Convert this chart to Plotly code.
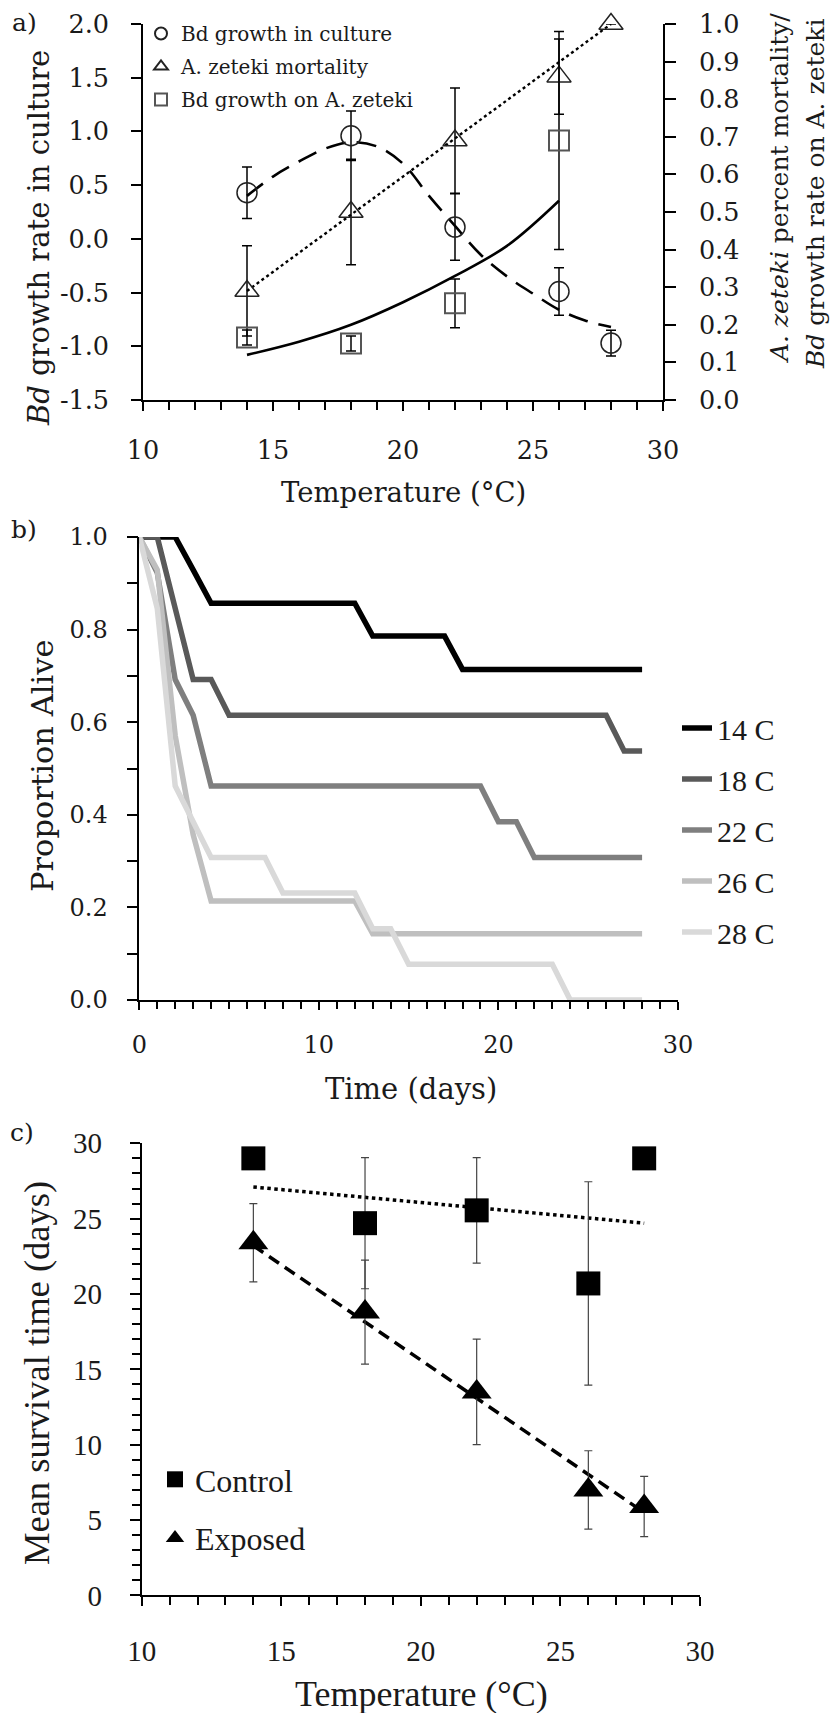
import plotly.graph_objects as go

W, H = 838, 1713
OFF = 8  # page body margin of the html page
def PX(x): return (x - OFF) / W
def PY(y): return 1 - (y - OFF) / H

FA = "DejaVu Serif"
FC = "Liberation Serif"
INK = "#1a1a1a"

# ---------------- Panel a data ----------------
temps_a = [14, 18, 22, 26, 28]
culture_growth = [0.43, 0.96, 0.11, -0.49, -0.97]
culture_err = [0.24, 0.23, 0.31, 0.22, 0.12]
mortality = [0.29, 0.50, 0.69, 0.86, 1.00]
mortality_err = [0.12, 0.14, 0.14, 0.10, 0.0]
temps_host = [14, 18, 22, 26]
host_growth = [0.166, 0.15, 0.257, 0.69]
host_err = [0.02, 0.02, 0.065, 0.29]

culture_fit_t = [14, 15, 16, 17, 18, 19, 20, 21, 22, 23, 24, 25, 26, 27, 28]
culture_fit = [0.40, 0.58, 0.72, 0.84, 0.90, 0.86, 0.70, 0.40, 0.12, -0.15, -0.35, -0.51, -0.66, -0.76, -0.82]
mortality_fit_t = [14, 28]
mortality_fit = [0.29, 1.00]
host_fit_t = [14, 16, 18, 20, 22, 24, 26]
host_fit = [0.12, 0.155, 0.20, 0.26, 0.33, 0.41, 0.53]

a_left_ticks = [-1.5, -1.0, -0.5, 0.0, 0.5, 1.0, 1.5, 2.0]
a_left_labels = ["-1.5", "-1.0", "-0.5", "0.0", "0.5", "1.0", "1.5", "2.0"]

# ---------------- Panel b data ----------------
days = [0, 1, 2, 3, 4, 5, 6, 7, 8, 9, 10, 11, 12, 13, 14, 15, 16, 17, 18, 19, 20,
        21, 22, 23, 24, 25, 26, 27, 28]
surv_14 = [1, 1, 1, 0.929, 0.857, 0.857, 0.857, 0.857, 0.857, 0.857, 0.857, 0.857, 0.857,
           0.786, 0.786, 0.786, 0.786, 0.786, 0.714, 0.714, 0.714, 0.714, 0.714, 0.714,
           0.714, 0.714, 0.714, 0.714, 0.714]
surv_18 = [1, 1, 0.846, 0.692, 0.692, 0.615, 0.615, 0.615, 0.615, 0.615, 0.615, 0.615,
           0.615, 0.615, 0.615, 0.615, 0.615, 0.615, 0.615, 0.615, 0.615, 0.615, 0.615,
           0.615, 0.615, 0.615, 0.615, 0.538, 0.538]
surv_22 = [1, 0.923, 0.692, 0.615, 0.462, 0.462, 0.462, 0.462, 0.462, 0.462, 0.462, 0.462,
           0.462, 0.462, 0.462, 0.462, 0.462, 0.462, 0.462, 0.462, 0.385, 0.385, 0.308,
           0.308, 0.308, 0.308, 0.308, 0.308, 0.308]
surv_26 = [1, 0.929, 0.571, 0.357, 0.214, 0.214, 0.214, 0.214, 0.214, 0.214, 0.214, 0.214,
           0.214, 0.143, 0.143, 0.143, 0.143, 0.143, 0.143, 0.143, 0.143, 0.143, 0.143,
           0.143, 0.143, 0.143, 0.143, 0.143, 0.143]
surv_28 = [1, 0.846, 0.462, 0.385, 0.308, 0.308, 0.308, 0.308, 0.231, 0.231, 0.231, 0.231,
           0.231, 0.154, 0.154, 0.077, 0.077, 0.077, 0.077, 0.077, 0.077, 0.077, 0.077,
           0.077, 0, 0, 0, 0, 0]
surv_names = ["14 C", "18 C", "22 C", "26 C", "28 C"]
surv_colors = ["#000000", "#595959", "#7f7f7f", "#bfbfbf", "#d9d9d9"]

# ---------------- Panel c data ----------------
temps_c = [14, 18, 22, 26, 28]
control_mean = [29.0, 24.7, 25.55, 20.7, 29.0]
control_err = [0, 4.35, 3.5, 6.75, 0]
exposed_mean = [23.4, 18.8, 13.5, 7.0, 5.9]
exposed_err = [2.6, 3.45, 3.5, 2.6, 2.0]
control_fit_t = [14, 28]
control_fit = [27.1, 24.7]
exposed_fit_t = [14, 28]
exposed_fit = [23.2, 5.5]

fig = go.Figure()

# ---- panel a traces ----
fig.add_trace(go.Scatter(x=culture_fit_t, y=culture_fit, mode="lines", xaxis="x", yaxis="y",
                         line=dict(color="black", width=2.6, dash="20px,11px", shape="spline"),
                         showlegend=False, hoverinfo="skip"))
fig.add_trace(go.Scatter(x=mortality_fit_t, y=mortality_fit, mode="lines", xaxis="x", yaxis="y2",
                         line=dict(color="black", width=2.4, dash="dot"),
                         showlegend=False, hoverinfo="skip"))
fig.add_trace(go.Scatter(x=host_fit_t, y=host_fit, mode="lines", xaxis="x", yaxis="y2",
                         line=dict(color="black", width=2.6, shape="spline"),
                         showlegend=False, hoverinfo="skip"))
fig.add_trace(go.Scatter(x=temps_a, y=culture_growth, mode="markers", xaxis="x", yaxis="y",
                         name="Bd growth in culture", legend="legend", legendgroup="a1",
                         cliponaxis=False,
                         marker=dict(symbol="circle-open", size=20, color="#222",
                                     line=dict(width=1.5, color="#222")),
                         error_y=dict(type="data", array=culture_err, color="black",
                                      thickness=1.5, width=5)))
fig.add_trace(go.Scatter(x=temps_a, y=mortality, mode="markers", xaxis="x", yaxis="y2",
                         name="A. zeteki mortality", legend="legend", legendgroup="a2",
                         cliponaxis=False,
                         marker=dict(symbol="triangle-up-open", size=21, color="#222",
                                     line=dict(width=1.5, color="#222")),
                         error_y=dict(type="data", array=mortality_err, color="black",
                                      thickness=1.5, width=5)))
fig.add_trace(go.Scatter(x=temps_host, y=host_growth, mode="markers", xaxis="x", yaxis="y2",
                         name="Bd growth on A. zeteki", legend="legend", legendgroup="a3",
                         cliponaxis=False,
                         marker=dict(symbol="square-open", size=20, color="#555",
                                     line=dict(width=2, color="#555")),
                         error_y=dict(type="data", array=host_err, color="black",
                                      thickness=1.5, width=5)))

# ---- panel b traces ----
for name, vals, col in zip(surv_names, [surv_14, surv_18, surv_22, surv_26, surv_28], surv_colors):
    fig.add_trace(go.Scatter(x=days, y=vals, mode="lines", xaxis="x3", yaxis="y3",
                             name=name, legend="legend2", legendgroup=name,
                             line=dict(color=col, width=5.5), hoverinfo="skip"))

# ---- panel c traces ----
fig.add_trace(go.Scatter(x=control_fit_t, y=control_fit, mode="lines", xaxis="x4", yaxis="y4",
                         line=dict(color="black", width=3.5, dash="dot"),
                         showlegend=False, hoverinfo="skip"))
fig.add_trace(go.Scatter(x=exposed_fit_t, y=exposed_fit, mode="lines", xaxis="x4", yaxis="y4",
                         line=dict(color="black", width=3.5, dash="12px,7px"),
                         showlegend=False, hoverinfo="skip"))
fig.add_trace(go.Scatter(x=temps_c, y=control_mean, mode="markers", xaxis="x4", yaxis="y4",
                         name="Control", legend="legend3", legendgroup="c1", cliponaxis=False,
                         marker=dict(symbol="square", size=24, color="black"),
                         error_y=dict(type="data", array=control_err, color="#444",
                                      thickness=1.2, width=4)))
fig.add_trace(go.Scatter(x=temps_c, y=exposed_mean, mode="markers", xaxis="x4", yaxis="y4",
                         name="Exposed", legend="legend3", legendgroup="c2", cliponaxis=False,
                         marker=dict(symbol="triangle-up", size=26, color="black"),
                         error_y=dict(type="data", array=exposed_err, color="#444",
                                      thickness=1.2, width=4)))

ax_common = dict(showline=True, linecolor="black", linewidth=1.6, showgrid=False,
                 zeroline=False, ticks="outside", tickcolor="black", tickwidth=1.5,
                 automargin=False)

fig.update_layout(
    template="none",
    width=W, height=H, margin=dict(l=0, r=0, t=0, b=0, autoexpand=False),
    paper_bgcolor="white", plot_bgcolor="white", hovermode=False,
    # panel a
    xaxis=dict(ax_common, domain=[PX(143), PX(663)], range=[10, 30], anchor="y",
               tick0=10, dtick=5, ticklen=9, ticklabelstandoff=18,
               minor=dict(dtick=1, ticks="outside", ticklen=8, tickcolor="black", tickwidth=1.5),
               tickfont=dict(family=FA, size=25.5, color=INK)),
    yaxis=dict(ax_common, domain=[PY(400), PY(24)], range=[-1.5, 2.0], anchor="x",
               tickmode="array", tickvals=a_left_ticks, ticktext=a_left_labels, ticklen=10,
               ticklabelstandoff=17,
               tickfont=dict(family=FA, size=25.5, color=INK)),
    yaxis2=dict(ax_common, overlaying="y", side="right", anchor="x", range=[0, 1.0],
                tick0=0, dtick=0.1, tickformat=".1f", ticklen=11, ticklabelstandoff=18,
                tickfont=dict(family=FA, size=25.5, color=INK)),
    # panel b
    xaxis3=dict(ax_common, domain=[PX(139.3), PX(678)], range=[0, 30], anchor="y3",
                tick0=0, dtick=10, ticklen=8, ticklabelstandoff=14,
                minor=dict(dtick=1, ticks="outside", ticklen=7, tickcolor="black", tickwidth=1.5),
                tickfont=dict(family=FA, size=24, color=INK)),
    yaxis3=dict(ax_common, domain=[PY(1000), PY(537)], range=[0, 1.0], anchor="x3",
                tick0=0, dtick=0.2, tickformat=".1f", ticklen=11, ticklabelstandoff=14,
                minor=dict(dtick=0.1, ticks="outside", ticklen=11, tickcolor="black", tickwidth=1.5),
                tickfont=dict(family=FA, size=24, color=INK)),
    # panel c
    xaxis4=dict(ax_common, domain=[PX(141.7), PX(700)], range=[10, 30], anchor="y4",
                tick0=10, dtick=5, ticklen=9, ticklabelstandoff=20,
                minor=dict(dtick=1, ticks="outside", ticklen=8, tickcolor="black", tickwidth=1.5),
                tickfont=dict(family=FC, size=29, color=INK)),
    yaxis4=dict(ax_common, domain=[PY(1595.4), PY(1143.3)], range=[0, 30], anchor="x4",
                tick0=0, dtick=5, ticklen=10, ticklabelstandoff=22,
                minor=dict(dtick=1, ticks="outside", ticklen=8, tickcolor="black", tickwidth=1.5),
                tickfont=dict(family=FC, size=29, color=INK)),
    legend=dict(x=PX(141), y=PY(14), xanchor="left", yanchor="top", bgcolor="rgba(0,0,0,0)",
                font=dict(family=FA, size=20, color=INK), itemsizing="constant",
                tracegroupgap=4, itemwidth=30),
    legend2=dict(x=PX(677), y=PY(702), xanchor="left", yanchor="top", bgcolor="rgba(0,0,0,0)",
                 font=dict(family=FC, size=30, color=INK), tracegroupgap=9, itemwidth=30),
    legend3=dict(x=PX(155), y=PY(1452), xanchor="left", yanchor="top", bgcolor="rgba(0,0,0,0)",
                 font=dict(family=FC, size=32, color=INK), tracegroupgap=14, itemwidth=30,
                 itemsizing="trace"),
)

ann = [
    dict(text="a)", x=PX(24), y=PY(22), font=dict(family=FA, size=25, color=INK)),
    dict(text="<i>Bd</i> growth rate in culture", x=PX(39), y=PY(238), textangle=-90,
         font=dict(family=FA, size=29, color=INK)),
    dict(text="<i>A. zeteki</i> percent mortality/", x=PX(780), y=PY(188), textangle=-90,
         font=dict(family=FA, size=25, color=INK)),
    dict(text="<i>Bd</i> growth rate on A. zeteki", x=PX(815), y=PY(194), textangle=-90,
         font=dict(family=FA, size=25, color=INK)),
    dict(text="Temperature (°C)", x=PX(403), y=PY(492), font=dict(family=FA, size=27.5, color=INK)),
    dict(text="b)", x=PX(24), y=PY(530), font=dict(family=FA, size=25, color=INK)),
    dict(text="Proportion Alive", x=PX(42), y=PY(766), textangle=-90,
         font=dict(family=FA, size=30.5, color=INK)),
    dict(text="Time (days)", x=PX(411), y=PY(1089), font=dict(family=FA, size=29, color=INK)),
    dict(text="c)", x=PX(22), y=PY(1132), font=dict(family=FA, size=25, color=INK)),
    dict(text="Mean survival time (days)", x=PX(36), y=PY(1373), textangle=-90,
         font=dict(family=FC, size=36.5, color=INK)),
    dict(text="Temperature (°C)", x=PX(421), y=PY(1694), font=dict(family=FC, size=36, color=INK)),
]
for a in ann:
    a.update(xref="paper", yref="paper", showarrow=False, xanchor="center", yanchor="middle")
fig.update_layout(annotations=ann)

fig.write_html("out.html")
